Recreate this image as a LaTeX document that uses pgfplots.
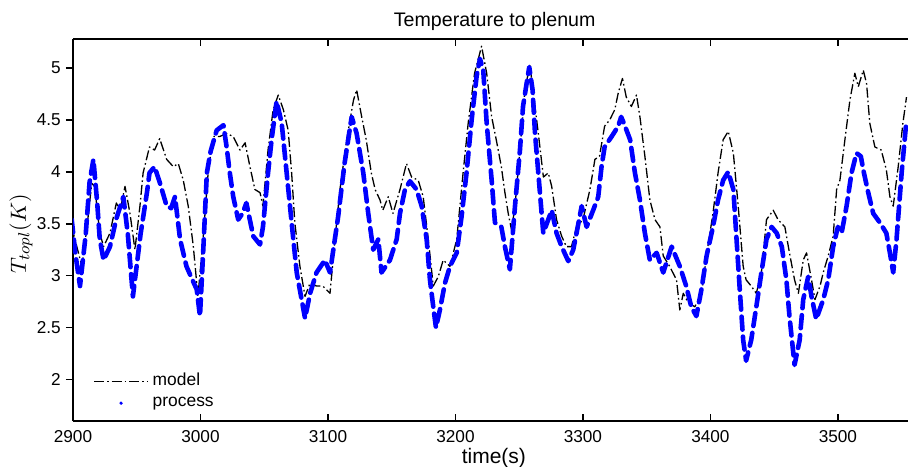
\documentclass[border=0pt]{standalone}
\usepackage{fontspec}
\setmainfont{Liberation Sans}
\usepackage{pgfplots}
\pgfplotsset{compat=1.18}
\begin{document}
\begin{tikzpicture}
\useasboundingbox (-36.5pt,-22.5pt) rectangle (417.5pt,210.5pt);
\begin{axis}[
  at={(0pt,0pt)}, anchor=south west,
  scale only axis, width=417.5pt, height=191pt,
  xmin=2900, xmax=3555, ymin=1.6, ymax=5.28,
  axis y line*=left,
  axis line style={-, line width=0.8pt},
  xtick={2900,3000,...,3500},
  ytick={2,2.5,...,5},
  scaled x ticks=false,
  tick align=inside,
  major tick length=3.5pt,
  every tick/.style={black, line width=0.8pt},
  ytick style={xshift=-3.5pt},
  /pgf/number format/assume math mode=true,
  xticklabel style={/pgf/number format/1000 sep=, font=\fontsize{8.6}{10}\selectfont, yshift=-1pt},
  yticklabel style={font=\fontsize{8.6}{10}\selectfont, xshift=-2.6pt},
  title={Temperature to plenum},
  title style={at={(rel axis cs:0.505,1)}, anchor=base, yshift=0.2pt, font=\fontsize{9.8}{11}\selectfont},
  xlabel={time(s)},
  xlabel style={at={(rel axis cs:0.504,0)}, anchor=base, yshift=-21pt, font=\fontsize{10.5}{12}\selectfont},
  ylabel={$T_{topl}(K)$},
  ylabel style={at={(axis description cs:-0.0623,0.49)}, anchor=center, font=\fontsize{10.8}{13}\selectfont},
  legend style={at={(rel axis cs:0.024,0.019)}, anchor=south west, draw=none, fill=none,
    font=\fontsize{8.7}{10}\selectfont, row sep=0pt, inner sep=0pt, cells={anchor=west}},
]
\addplot[black, line width=0.65pt, line join=round, dash pattern=on 5pt off 1.5pt on 0.8pt off 1.5pt,
  legend image code/.code={\draw[black, line width=0.65pt, dash pattern=on 5pt off 1.5pt on 0.8pt off 1.5pt] (0pt,0pt) -- (27pt,0pt);}] coordinates {
(2899,3.47) (2903,3.28) (2907,3.09) (2911,3.47) (2914.7,3.89) (2917,3.86) (2921,3.41) (2924,3.28) (2929,3.41) (2934,3.70) (2937,3.63) (2940.8,3.86) (2944.7,3.60) (2948.6,3.25) (2952.5,3.67) (2955,3.99) (2960,4.24) (2964,4.21) (2968,4.32) (2973.5,4.12) (2978.7,4.05) (2982.6,4.08) (2986.5,3.92) (2990.4,3.67) (2994.4,3.28) (2998,2.80) (3002,3.35) (3006,3.99) (3010,4.34) (3015,4.34) (3020.5,4.37) (3025.7,4.34) (3031,4.21) (3035,4.28) (3038.8,4.05) (3042.7,3.83) (3046.7,3.80) (3049,3.67) (3053,4.21) (3057,4.60) (3061,4.74) (3065,4.60) (3068.8,4.40) (3071.5,3.99) (3074,3.51) (3078,3.09) (3082,2.80) (3086,2.93) (3091,2.90) (3096,2.90) (3101.6,2.83) (3105.5,3.35) (3109.4,3.83) (3114.7,4.31) (3120,4.69) (3122.5,4.79) (3126,4.56) (3130,4.31) (3134,3.99) (3137,3.83) (3140.8,3.73) (3143,3.63) (3147.3,3.76) (3151,3.60) (3156.5,3.83) (3161.6,4.08) (3165.6,3.95) (3170.8,3.92) (3174.7,3.76) (3178.7,3.35) (3182.6,2.90) (3186.5,2.99) (3190.4,3.15) (3195.7,3.09) (3201,3.35) (3206,3.99) (3210,4.47) (3215,4.95) (3220.5,5.21) (3224.5,4.95) (3228.4,4.53) (3232,4.31) (3236,4.05) (3238.8,3.80) (3241.4,3.60) (3244,3.44) (3246.7,3.67) (3250.6,4.21) (3254.5,4.79) (3258.4,5.03) (3262.4,4.63) (3265,4.37) (3269,3.95) (3272.8,3.99) (3275.5,3.86) (3279.3,3.54) (3283.3,3.38) (3287,3.28) (3291,3.28) (3295,3.47) (3300,3.54) (3305.5,3.83) (3309.4,4.12) (3313,4.15) (3317,4.44) (3321,4.50) (3325,4.60) (3327.7,4.76) (3331,4.90) (3334,4.72) (3338,4.63) (3342,4.74) (3344.7,4.53) (3348.6,4.15) (3352.5,3.73) (3356.5,3.54) (3360.4,3.47) (3363,3.19) (3368,3.09) (3373.4,2.96) (3376,2.67) (3378.7,2.83) (3382.6,2.74) (3387.8,2.70) (3393,2.83) (3398,3.28) (3402,3.60) (3406,3.99) (3410,4.31) (3414,4.39) (3418,4.18) (3421.8,3.67) (3425.7,3.09) (3428,2.96) (3432,2.90) (3436,2.83) (3440,3.03) (3444,3.54) (3449.3,3.63) (3453,3.54) (3458.4,3.47) (3462,3.22) (3466,2.96) (3469,2.83) (3472.8,3.15) (3475.4,3.22) (3479.3,2.96) (3482,2.77) (3486,2.90) (3488.5,3.03) (3492.4,3.19) (3496.3,3.38) (3499,3.83) (3501.6,3.92) (3505.5,4.31) (3509.4,4.69) (3513.3,4.95) (3516,4.82) (3519.9,4.98) (3522.5,4.85) (3525,4.47) (3529,4.24) (3534,4.21) (3538,4.02) (3540.8,3.76) (3543.4,3.67) (3547.3,4.05) (3551,4.47) (3553.8,4.72)
};
\addlegendentry{model}
\addplot[blue, line width=2.3pt, line join=round, line cap=round, dash pattern=on 6.5pt off 3.5pt,
  legend image code/.code={\path[draw=none, fill=none] (0pt,0pt) -- (27pt,0pt); \fill[blue, draw=none] (13.5pt,0pt) circle (0.9pt);}] coordinates {
(2899,3.54) (2902,3.2) (2905.5,2.90) (2910,3.4) (2913,3.9) (2916,4.12) (2919,3.7) (2921,3.35) (2924,3.15) (2929,3.28) (2934,3.55) (2939.5,3.76) (2943,3.4) (2947,2.80) (2948.5,2.95) (2953,3.4) (2958,3.80) (2960,3.99) (2964,4.05) (2968,3.9) (2973.5,3.67) (2977,3.65) (2980,3.76) (2984,3.35) (2989,3.09) (2994,2.95) (2997,2.87) (2999.6,2.61) (3002,3.2) (3005,3.99) (3008,4.2) (3012.7,4.40) (3018,4.45) (3020.5,4.24) (3023,3.99) (3025.7,3.76) (3029.6,3.54) (3033,3.6) (3036,3.70) (3041.4,3.38) (3046.7,3.30) (3049,3.47) (3053,3.99) (3055.8,4.31) (3059.7,4.68) (3063.7,4.47) (3067.6,3.99) (3071.5,3.51) (3075.5,3.03) (3082,2.59) (3086,2.83) (3091,3.03) (3097.6,3.15) (3101.6,3.03) (3108,3.57) (3113,4.08) (3118.6,4.53) (3122.5,4.37) (3127.7,3.99) (3131.6,3.60) (3135.5,3.25) (3139.5,3.35) (3142,3.03) (3148.6,3.15) (3153.9,3.35) (3156.5,3.60) (3160.4,3.83) (3164.3,3.91) (3169.5,3.83) (3173.5,3.67) (3177.4,3.35) (3180,2.96) (3182.6,2.70) (3184.7,2.50) (3187.8,2.67) (3191.8,2.93) (3195.7,3.09) (3201,3.22) (3204.8,3.57) (3208.7,3.99) (3212.7,4.50) (3216.6,4.92) (3219.2,5.09) (3221.8,4.98) (3224.5,4.47) (3228.4,3.92) (3231,3.51) (3236,3.47) (3238.8,3.28) (3242.7,3.06) (3246.7,3.67) (3250.6,4.21) (3253,4.63) (3255.8,4.85) (3257.9,5.01) (3260.5,4.79) (3262.4,4.37) (3265,3.99) (3267.6,3.60) (3268.9,3.41) (3272.8,3.54) (3275.5,3.63) (3279.3,3.41) (3283.3,3.28) (3288.5,3.14) (3292.4,3.25) (3295,3.41) (3299,3.67) (3302.9,3.47) (3308,3.63) (3312,3.76) (3314.6,4.05) (3317,4.24) (3322.5,4.34) (3327.7,4.44) (3330,4.53) (3333,4.44) (3337,4.31) (3340.8,3.99) (3344.7,3.73) (3348.6,3.41) (3352.5,3.15) (3357.8,3.22) (3363,3.03) (3369.6,3.28) (3376,3.09) (3381,2.90) (3385,2.70) (3389,2.61) (3393,2.87) (3397,3.19) (3402,3.47) (3406,3.73) (3410,3.92) (3414,4.00) (3418,3.83) (3420.5,3.35) (3423,2.87) (3425.7,2.38) (3428,2.18) (3432,2.38) (3436,2.70) (3440,3.03) (3444,3.35) (3448,3.47) (3452,3.41) (3456,3.28) (3459.6,2.96) (3462,2.61) (3466,2.14) (3470,2.38) (3472.8,2.77) (3476.7,2.99) (3479.3,2.80) (3483,2.58) (3488.5,2.77) (3492.4,2.96) (3496.3,3.28) (3500,3.47) (3502.9,3.41) (3506.8,3.67) (3510.7,3.99) (3514.6,4.18) (3518,4.15) (3519.9,4.02) (3523.8,3.80) (3527.7,3.60) (3533,3.51) (3538,3.41) (3540.8,3.22) (3543.4,3.03) (3546,3.35) (3550,3.99) (3553.8,4.50)
};
\addlegendentry{process}
\end{axis}
\end{tikzpicture}
\end{document}
